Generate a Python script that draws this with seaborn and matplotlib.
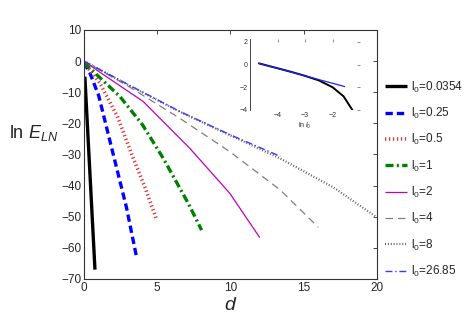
import numpy as np
import pandas as pd
import matplotlib
matplotlib.use('Agg')
import matplotlib.pyplot as plt
import seaborn as sns

# ── data ─────────────────────────────────────────────────────────────────────
labels = ['0.0354', '0.25', '0.5', '1', '2', '4', '8', '26.85']

d_0354 = [0.06, 0.75]
e_0354 = [-5.0, -67.0]

d_025 = [0.0, 0.41, 1.0, 2.0, 2.9, 3.59]
e_025 = [-0.5, -3.9, -11.0, -30.0, -47.0, -63.0]

d_05 = [0.0, 1.09, 2.3, 3.37, 4.2, 4.96]
e_05 = [-0.5, -7.1, -18.0, -31.3, -41.0, -51.0]

d_1 = [0.0, 2.46, 4.0, 5.42, 7.12, 8.03]
e_1 = [-0.5, -11.4, -20.5, -31.3, -45.7, -54.3]

d_2 = [0.0, 1.0, 4.05, 7.24, 9.96, 12.0]
e_2 = [0.0, -3.3, -13.0, -28.1, -42.5, -56.7]

d_4 = [0.0, 3.0, 6.55, 9.96, 13.4, 16.0]
e_4 = [0.0, -8.0, -18.4, -29.1, -41.4, -53.4]

d_8 = [0.0, 3.0, 6.55, 10.0, 13.4, 17.0, 20.0]
e_8 = [0.0, -7.6, -16.3, -23.9, -31.3, -40.5, -50.2]

d_2685 = [0.0, 3.0, 6.55, 10.0, 13.4]
e_2685 = [0.0, -7.5, -16.2, -23.7, -30.6]

# inset: ln E_LN vs ln l0
inset_x_black = [-4.68, -4.0, -3.5, -3.0, -2.5, -2.0, -1.6, -1.28]
inset_y_black = [0.1, -0.33, -0.65, -1.0, -1.4, -2.0, -2.8, -4.0]
inset_x_blue = [-4.68, -1.56]
inset_y_blue = [0.1, -1.94]

series = [
    (d_0354, e_0354, dict(color='black', lw=2.4, ls='-')),
    (d_025, e_025, dict(color='#0000ff', lw=2.4, ls=(0, (2.2, 1.2)))),
    (d_05, e_05, dict(color='#e03535', lw=2.6, ls=(0, (0.35, 0.75)))),
    (d_1, e_1, dict(color='#008000', lw=2.4, ls=(0, (2.4, 1.0, 0.6, 1.0)))),
    (d_2, e_2, dict(color='#c000c0', lw=0.9, ls='-')),
    (d_4, e_4, dict(color='#808080', lw=0.9, ls=(0, (6, 4)))),
    (d_8, e_8, dict(color='#505050', lw=1.6, ls=(0, (0.4, 0.9)))),
    (d_2685, e_2685, dict(color='#3838ff', lw=1.0, ls=(0, (5, 2, 1, 2)))),
]

# ── figure ────────────────────────────────────────────────────────────────────
sns.set_style('white')
plt.rcParams['font.family'] = ['Liberation Sans', 'DejaVu Sans']
plt.rcParams['mathtext.fontset'] = 'custom'
plt.rcParams['mathtext.rm'] = 'Liberation Sans'
plt.rcParams['mathtext.it'] = 'Liberation Sans:italic'

fig = plt.figure(figsize=(4.71, 3.26), dpi=100)
ax = fig.add_axes([0.1783, 0.1442, 0.622, 0.7638])

for (xs, ys, style), lab in zip(series, labels):
    sns.lineplot(x=xs, y=ys, ax=ax, sort=False, estimator=None,
                 label=r'l$_0$=' + lab, solid_capstyle='butt',
                 dash_capstyle='butt', **style)

ax.set_xlim(0, 20)
ax.set_ylim(-70, 10)
ax.set_xticks([0, 5, 10, 15, 20])
ax.set_yticks(range(-70, 11, 10))
ax.tick_params(direction='in', length=3, width=0.6, labelsize=8.5,
               top=True, right=True, pad=2)
for sp in ax.spines.values():
    sp.set_linewidth(0.8)
    sp.set_color('#333333')

ax.set_xlabel('$d$', fontsize=14, labelpad=2)
ax.set_ylabel(r'ln $E_{LN}$', fontsize=13, rotation=0, labelpad=0,
              ha='left', va='center')
ax.yaxis.set_label_coords(-0.255, 0.586)

ax.legend(loc='upper left', bbox_to_anchor=(1.01, 0.82), frameon=False,
          fontsize=8.5, handlelength=1.9, handletextpad=0.3,
          labelspacing=0.95, borderaxespad=0)

# inset
axin = fig.add_axes([0.531, 0.6626, 0.2335, 0.218])
sns.lineplot(x=inset_x_black, y=inset_y_black, ax=axin, sort=False,
             estimator=None, color='black', lw=1.4)
sns.lineplot(x=inset_x_blue, y=inset_y_blue, ax=axin, sort=False,
             estimator=None, color='#2020ff', lw=0.9)
axin.set_xlim(-5, -1)
axin.set_ylim(-4, 2.25)
axin.set_xticks([-4, -3, -2])
axin.set_yticks([-4, -2, 0, 2])
axin.tick_params(direction='in', length=2, width=0.4, labelsize=5,
                 top=True, right=True, pad=1.5, colors='#333333')
for name, sp in axin.spines.items():
    sp.set_visible(name == 'left')
    sp.set_linewidth(0.6)
axin.set_xlabel(r'ln $l_0$', fontsize=5, labelpad=1)
axin.set_facecolor('none')

fig.savefig('out.png', dpi=100)
